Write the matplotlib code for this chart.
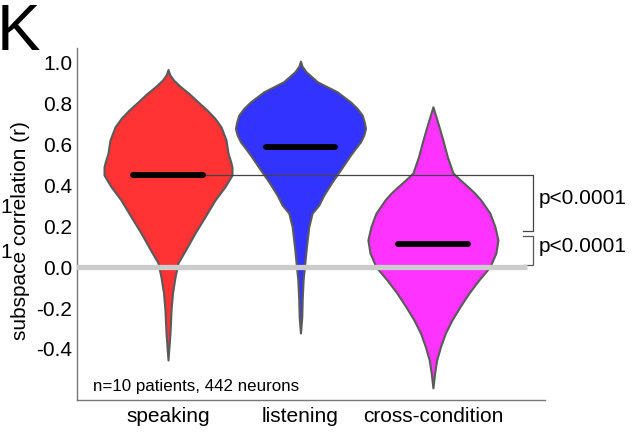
import numpy as np
import matplotlib
matplotlib.use('Agg')
import matplotlib.pyplot as plt

plt.rcParams['font.family'] = ['Liberation Sans', 'DejaVu Sans']
plt.rcParams['axes.unicode_minus'] = False

# Categorias y colores
categorias = ['speaking', 'listening', 'cross-condition']
colores = ['#ff3333', '#3333ff', '#ff33ff']

# Perfiles de los violines (valor r, semi-ancho en unidades del eje x)
y_speaking = [0.964, 0.940, 0.912, 0.880, 0.847, 0.806, 0.766, 0.727, 0.684, 0.620,
              0.556, 0.510, 0.488, 0.449, 0.392, 0.327, 0.245, 0.166, 0.083, 0.020,
              -0.049, -0.127, -0.210, -0.322, -0.454]
w_speaking = [0.0, 0.012, 0.042, 0.095, 0.158, 0.226, 0.294, 0.352, 0.400, 0.438,
              0.453, 0.475, 0.483, 0.483, 0.430, 0.355, 0.279, 0.204, 0.132, 0.075,
              0.053, 0.034, 0.023, 0.015, 0.0]

y_listening = [1.005, 0.980, 0.953, 0.904, 0.880, 0.855, 0.806, 0.774, 0.741, 0.709,
               0.677, 0.644, 0.611, 0.579, 0.546, 0.481, 0.416, 0.351, 0.302, 0.263,
               0.197, 0.099, 0.001, -0.063, -0.161, -0.242, -0.322]
w_listening = [0.0, 0.012, 0.042, 0.128, 0.201, 0.277, 0.377, 0.428, 0.466, 0.481,
               0.491, 0.478, 0.453, 0.415, 0.377, 0.309, 0.239, 0.176, 0.138, 0.088,
               0.063, 0.045, 0.030, 0.020, 0.013, 0.010, 0.0]

y_cross = [0.782, 0.702, 0.620, 0.538, 0.459, 0.424, 0.392, 0.361, 0.327, 0.263,
           0.197, 0.132, 0.068, 0.001, -0.063, -0.127, -0.194, -0.259, -0.322,
           -0.389, -0.454, -0.517, -0.590]
w_cross = [0.0, 0.038, 0.075, 0.109, 0.151, 0.208, 0.264, 0.315, 0.362, 0.430,
           0.468, 0.491, 0.475, 0.430, 0.347, 0.272, 0.204, 0.143, 0.094,
           0.057, 0.028, 0.013, 0.0]

perfiles = [(y_speaking, w_speaking), (y_listening, w_listening), (y_cross, w_cross)]

# Medianas
medianas = [0.45, 0.585, 0.112]

# Ticks del eje y
yticks = [-0.4, -0.2, 0.0, 0.2, 0.4, 0.6, 0.8, 1.0]
yticklabels = ['-0.4', '-0.2', '0.0', '0.2', '0.4', '0.6', '0.8', '1.0']

fig = plt.figure(figsize=(6.38, 4.42), dpi=100)
ax = fig.add_axes([0.1207, 0.095, 0.7333, 0.796])

posiciones = [1, 2, 3]
for pos, (yv, wv), color in zip(posiciones, perfiles, colores):
    yv = np.array(yv)
    wv = np.array(wv)
    ax.fill_betweenx(yv, pos - wv, pos + wv, facecolor=color,
                     edgecolor='#5a5a5a', linewidth=1.5, zorder=2)

# Linea del cero
ax.plot([0.2, 3.709], [0, 0], color='#cccccc', linewidth=3.8,
        solid_capstyle='butt', zorder=3)

# Linea de conexion y corchetes
ax.plot([1.265, 3.755, 3.755, 3.68], [0.45, 0.45, 0.176, 0.176],
        color='#444444', linewidth=0.9, zorder=4, clip_on=False)
ax.plot([3.68, 3.755, 3.755, 3.68], [0.151, 0.151, 0.01, 0.01],
        color='#555555', linewidth=0.9, zorder=2, clip_on=False)

# Medianas
for pos, med in zip(posiciones, medianas):
    ax.plot([pos - 0.262, pos + 0.262], [med, med], color='black',
            linewidth=4.2, solid_capstyle='round', zorder=5)

# Textos de p
ax.text(3.80, 0.332, 'p<0.0001', fontsize=15, va='center', ha='left', clip_on=False)
ax.text(3.80, 0.098, 'p<0.0001', fontsize=15, va='center', ha='left', clip_on=False)

ax.text(0.434, -0.585, 'n=10 patients, 442 neurons', fontsize=12.2, va='center', ha='left')

ax.set_xlim(0.313, 3.845)
ax.set_ylim(-0.649, 1.068)
ax.set_yticks(yticks)
ax.set_yticklabels(yticklabels, fontsize=15)
ax.set_xticks(posiciones)
ax.set_xticklabels(categorias, fontsize=15)
ax.tick_params(axis='both', length=0)
ax.tick_params(axis='y', pad=3.6)
ax.tick_params(axis='x', pad=5)

for lado in ['top', 'right']:
    ax.spines[lado].set_visible(False)
for lado in ['left', 'bottom']:
    ax.spines[lado].set_color('#777777')
    ax.spines[lado].set_linewidth(1.0)

fig.text(21 / 638, 1 - 231 / 442, 'subspace correlation (r)', fontsize=15,
         rotation=90, ha='center', va='center')

# Letra del panel y restos del panel vecino
fig.text(-3 / 638, 1 - 50 / 442, 'K', fontsize=47, va='baseline', ha='left')
fig.text(0.0, 1 - 213 / 442, '1', fontsize=15, va='baseline', ha='left')
fig.text(0.0, 1 - 258 / 442, '1', fontsize=15, va='baseline', ha='left')

fig.savefig('out.png', dpi=100)
